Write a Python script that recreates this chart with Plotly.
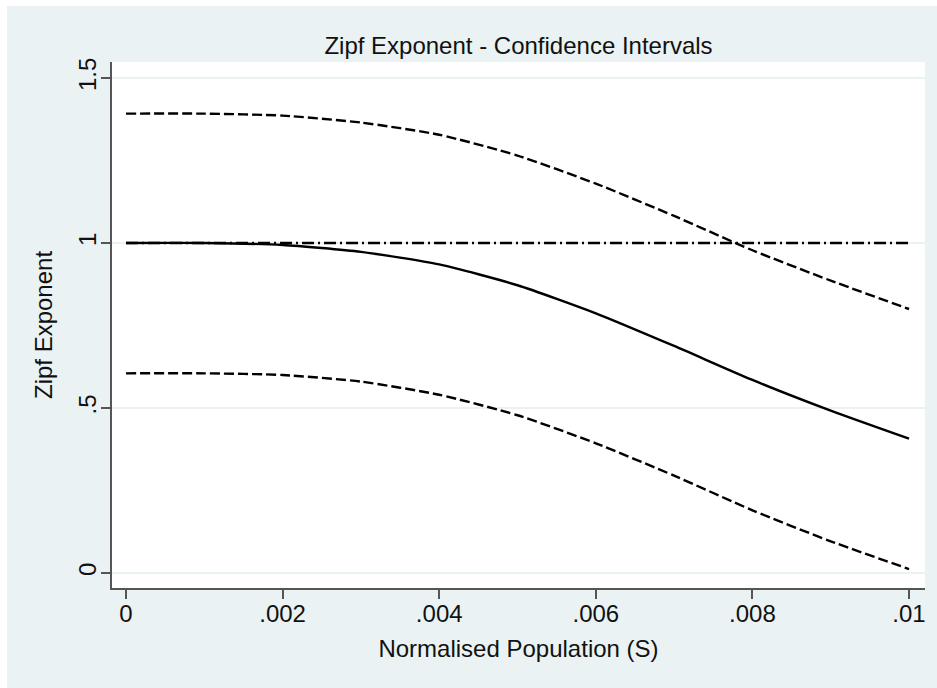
import plotly.graph_objects as go

# ---- data ----
x_vals = [0.000, 0.001, 0.002, 0.003, 0.004, 0.005, 0.006, 0.007, 0.008, 0.009, 0.010]
estimate = [1.000, 1.000, 0.994, 0.973, 0.935, 0.872, 0.787, 0.688, 0.585, 0.492, 0.407]
upper_ci = [1.392, 1.392, 1.386, 1.365, 1.328, 1.265, 1.180, 1.082, 0.978, 0.886, 0.800]
lower_ci = [0.605, 0.605, 0.600, 0.580, 0.540, 0.478, 0.393, 0.295, 0.190, 0.096, 0.012]
ref_x = [0.000, 0.010]
ref_y = [1.0, 1.0]

x_tickvals = [0, 0.002, 0.004, 0.006, 0.008, 0.010]
x_ticktext = ["0", ".002", ".004", ".006", ".008", ".01"]
y_tickvals = [0, 0.5, 1.0, 1.5]
y_ticktext = ["0", ".5", "1", "1.5"]

title_text = "Zipf Exponent - Confidence Intervals"
x_title = "Normalised Population (S)"
y_title = "Zipf Exponent"

# ---- styling ----
BG = "#EAF2F3"
AXIS = "#555555"
FONT = "Liberation Sans, Arial, Helvetica, sans-serif"
W, H = 937, 688
ML, MR, MT, MB = 112, 12, 62, 100
PW = W - ML - MR
PH = H - MT - MB

fig = go.Figure()

line_style = dict(color="black", width=2.4, shape="spline", smoothing=0.6)

fig.add_trace(go.Scatter(x=ref_x, y=ref_y, mode="lines",
                         line=dict(color="black", width=2.4, dash="12px,4px,2px,4px"),
                         showlegend=False, hoverinfo="skip"))
fig.add_trace(go.Scatter(x=x_vals, y=upper_ci, mode="lines",
                         line=dict(line_style, dash="10px,4px"), showlegend=False))
fig.add_trace(go.Scatter(x=x_vals, y=lower_ci, mode="lines",
                         line=dict(line_style, dash="10px,4px"), showlegend=False))
fig.add_trace(go.Scatter(x=x_vals, y=estimate, mode="lines",
                         line=line_style, showlegend=False))

# white strips at the top and left of the page (outer frame offset)
def px_to_paper_x(px):
    return (px - ML) / PW

def py_to_paper_y(py):
    return (H - MB - py) / PH

fig.add_shape(type="rect", xref="paper", yref="paper", layer="below",
              x0=px_to_paper_x(-5), x1=px_to_paper_x(7),
              y0=py_to_paper_y(H + 5), y1=py_to_paper_y(-5),
              line=dict(width=0), fillcolor="white")
fig.add_shape(type="rect", xref="paper", yref="paper", layer="below",
              x0=px_to_paper_x(-5), x1=px_to_paper_x(W + 5),
              y0=py_to_paper_y(6), y1=py_to_paper_y(-5),
              line=dict(width=0), fillcolor="white")

fig.update_layout(
    width=W, height=H,
    margin=dict(l=ML, r=MR, t=MT, b=MB, pad=0),
    paper_bgcolor=BG, plot_bgcolor="white",
    font=dict(family=FONT, size=24, color="#111111"),
    title=dict(text=title_text, x=(ML + PW / 2) / W, xanchor="center",
               y=1 - 45.5 / H, yanchor="middle", yref="container",
               font=dict(size=24, family=FONT, color="#111111")),
    showlegend=False,
)

fig.update_xaxes(
    range=[-0.000179, 0.010204],
    tickvals=x_tickvals, ticktext=x_ticktext,
    showgrid=False, zeroline=False,
    showline=True, linecolor=AXIS, linewidth=1.5,
    ticks="outside", ticklen=9, tickwidth=1.5, tickcolor=AXIS,
    ticklabelstandoff=-6,
    tickfont=dict(size=24, family=FONT, color="#111111"),
    title=dict(text=x_title, font=dict(size=24, family=FONT, color="#111111"), standoff=15),
)
fig.update_yaxes(
    range=[-0.0455, 1.5485],
    tickvals=y_tickvals, ticktext=y_ticktext, tickangle=-90,
    showgrid=True, gridcolor=BG, gridwidth=2,
    zeroline=False,
    showline=True, linecolor=AXIS, linewidth=1.5,
    ticks="outside", ticklen=9, tickwidth=1.5, tickcolor=AXIS,
    ticklabelstandoff=-4,
    tickfont=dict(size=24, family=FONT, color="#111111"),
    title=dict(text=y_title, font=dict(size=24, family=FONT, color="#111111"), standoff=14),
)

fig.write_html("out.html")
